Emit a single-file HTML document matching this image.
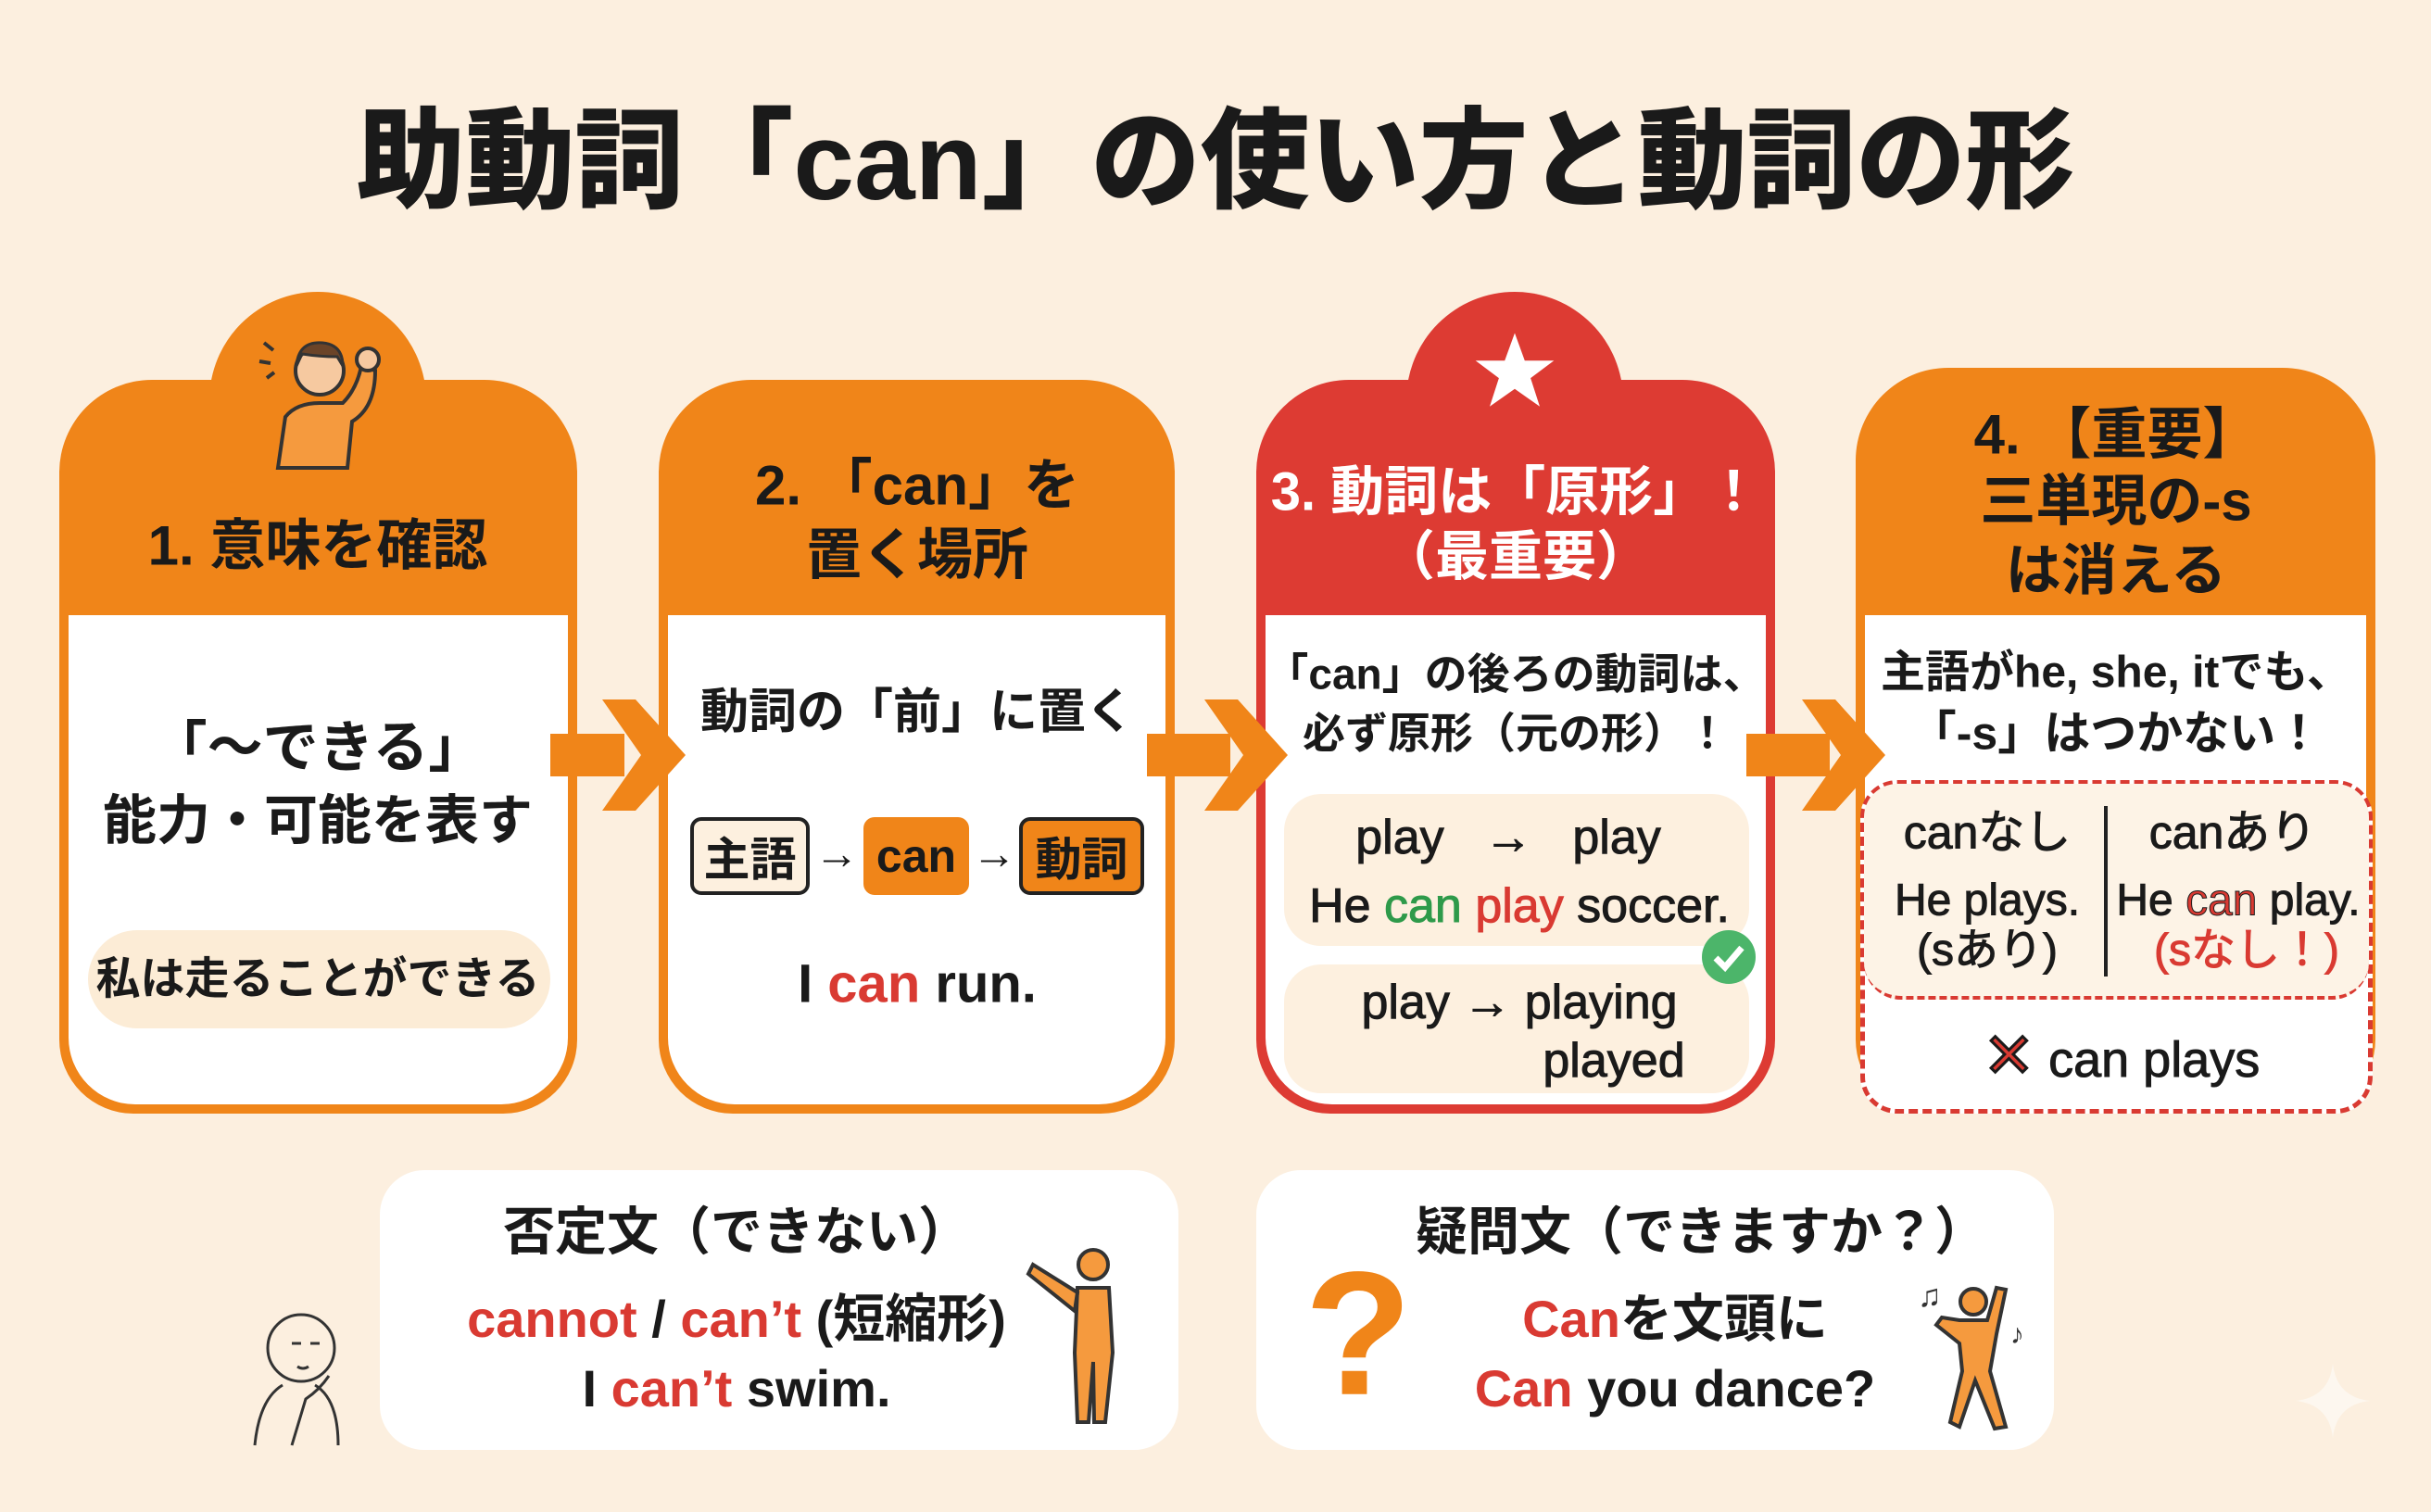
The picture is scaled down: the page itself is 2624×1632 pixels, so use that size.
<!DOCTYPE html>
<html><head><meta charset="utf-8">
<style>
*{margin:0;padding:0;box-sizing:border-box}
body{width:2624px;height:1632px;background:#fcefdf;position:relative;overflow:hidden;font-family:"Liberation Sans","Noto Sans CJK JP",sans-serif;font-weight:700;color:#1a1a1a}
.t{position:absolute;white-space:nowrap;text-align:center;transform:translate(-50%,-50%);line-height:1.15}
.card{position:absolute;border-radius:100px 100px 80px 80px}
.body{position:absolute;left:10px;right:10px;bottom:10px;background:#fff;border-radius:0 0 72px 72px}
.bump{position:absolute;width:234px;height:260px;border-radius:117px}
.r{color:#d93a32}.g{color:#2e9a4a}
.box{position:absolute;background:#fff;border-radius:48px}
.chip{position:absolute;border-radius:12px;font-size:50px;display:flex;align-items:center;justify-content:center}
</style></head><body>

<div class="t" style="left:1312px;top:176px;font-size:118px;font-weight:900">助動詞「can」の使い方と動詞の形</div>

<div class="bump" style="left:226px;top:315px;background:#f08519"></div>
<div class="bump" style="left:1518px;top:315px;background:#dd3b33"></div>

<div class="card" style="left:64px;top:410px;width:559px;height:792px;background:#f08519"><div class="body" style="top:254px"></div></div>
<div class="card" style="left:711px;top:410px;width:557px;height:792px;background:#f08519"><div class="body" style="top:254px"></div></div>
<div class="card" style="left:1356px;top:410px;width:560px;height:792px;background:#dd3b33"><div class="body" style="top:254px"></div></div>
<div class="card" style="left:2003px;top:397px;width:561px;height:805px;background:#f08519"><div class="body" style="top:267px"></div></div>

<svg style="position:absolute;left:260px;top:340px" width="170" height="170" viewBox="0 0 170 170">
<path d="M40 165 L48 110 Q60 95 85 95 L110 95 Q125 80 130 55 L145 60 Q145 100 120 115 L115 165 Z" fill="#f59a3e" stroke="#333" stroke-width="4"/>
<circle cx="85" cy="60" r="26" fill="#f6c9a0" stroke="#333" stroke-width="4"/>
<path d="M60 55 Q62 28 88 30 Q110 32 110 55 L104 45 Q85 45 66 42Z" fill="#6b4428" stroke="#333" stroke-width="3"/>
<circle cx="137" cy="48" r="12" fill="#f6c9a0" stroke="#333" stroke-width="4"/>
<path d="M25 30 L35 38 M20 50 L32 52 M28 68 L36 62" stroke="#333" stroke-width="4"/>
</svg>
<svg style="position:absolute;left:1590px;top:355px" width="90" height="90" viewBox="0 0 100 100"><polygon points="50,5 62,38 97,38 69,59 80,93 50,72 20,93 31,59 3,38 38,38" fill="#fff"/></svg>

<svg style="position:absolute;left:0;top:0" width="2624" height="1632">
<g fill="#f08519">
<rect x="594" y="792" width="80" height="46"/><polygon points="650,755 686,755 740,815 686,875 650,875 692,815"/>
<rect x="1238" y="792" width="90" height="46"/><polygon points="1300,755 1336,755 1390,815 1336,875 1300,875 1342,815"/>
<rect x="1885" y="792" width="90" height="46"/><polygon points="1945,755 1981,755 2035,815 1981,875 1945,875 1987,815"/>
</g>
</svg>

<div class="t" style="left:343px;top:589px;font-size:60px">1. 意味を確認</div>
<div class="t" style="left:343px;top:807px;font-size:60px">「～できる」</div>
<div class="t" style="left:343px;top:887px;font-size:58px">能力・可能を表す</div>
<div style="position:absolute;left:95px;top:1004px;width:499px;height:106px;background:#fcecd6;border-radius:53px"></div>
<div class="t" style="left:343px;top:1057px;font-size:48px">私は走ることができる</div>

<div class="t" style="left:990px;top:524px;font-size:60px">2. 「can」を</div>
<div class="t" style="left:990px;top:599px;font-size:60px">置く場所</div>
<div class="t" style="left:990px;top:770px;font-size:52px">動詞の「前」に置く</div>
<div class="chip" style="left:745px;top:882px;width:129px;height:84px;background:#fdf0df;border:4px solid #222">主語</div>
<div class="t" style="left:903px;top:922px;font-size:48px">→</div>
<div class="chip" style="left:932px;top:882px;width:114px;height:84px;background:#f08519">can</div>
<div class="t" style="left:1073px;top:922px;font-size:48px">→</div>
<div class="chip" style="left:1100px;top:882px;width:135px;height:84px;background:#f08519;border:4px solid #222">動詞</div>
<div class="t" style="left:990px;top:1063px;font-size:58px">I <span class="r">can</span> run.</div>

<div class="t" style="left:1636px;top:532px;font-size:58px;color:#fff">3. 動詞は「原形」！</div>
<div class="t" style="left:1636px;top:602px;font-size:58px;color:#fff">（最重要）</div>
<div class="t" style="left:1636px;top:728px;font-size:46px">「can」の後ろの動詞は、</div>
<div class="t" style="left:1636px;top:792px;font-size:46px">必ず原形（元の形）！</div>
<div style="position:absolute;left:1386px;top:857px;width:502px;height:164px;background:#fdf0df;border-radius:40px"></div>
<div style="position:absolute;left:1386px;top:1041px;width:502px;height:139px;background:#fdf0df;border-radius:40px"></div>
<div class="t" style="left:1628px;top:905px;font-size:52px;font-weight:400;-webkit-text-stroke:1px #1a1a1a">play &nbsp;&nbsp;→&nbsp;&nbsp; play</div>
<div class="t" style="left:1640px;top:979px;font-size:52px;font-weight:400;-webkit-text-stroke:1px #1a1a1a">He <span class="g" style="-webkit-text-stroke:1px #2e9a4a">can</span> <span class="r" style="-webkit-text-stroke:1px #d93a32">play</span> soccer.</div>
<svg style="position:absolute;left:1836px;top:1003px" width="60" height="60"><circle cx="30" cy="30" r="29" fill="#4cb56a"/><path d="M16 31 L26 41 L44 20" stroke="#fff" stroke-width="7" fill="none"/></svg>
<div class="t" style="left:1640px;top:1083px;font-size:52px;font-weight:400;-webkit-text-stroke:1px #1a1a1a">play → playing</div>
<div class="t" style="left:1742px;top:1146px;font-size:52px;font-weight:400;-webkit-text-stroke:1px #1a1a1a">played</div>

<div class="t" style="left:2284px;top:469px;font-size:60px">4. 【重要】</div>
<div class="t" style="left:2284px;top:541px;font-size:60px">三単現の-s</div>
<div class="t" style="left:2284px;top:616px;font-size:60px">は消える</div>
<div class="t" style="left:2284px;top:726px;font-size:48px">主語がhe, she, itでも、</div>
<div class="t" style="left:2284px;top:792px;font-size:50px">「-s」はつかない！</div>
<div style="position:absolute;left:2008px;top:842px;width:553px;height:360px;border:5px dashed #d93a32;border-radius:40px;background:#fff"></div>
<div style="position:absolute;left:2012px;top:846px;width:545px;height:233px;border-bottom:4px dashed #d93a32;border-radius:36px 36px 40px 40px;background:#fdf3e6"></div>
<div style="position:absolute;left:2271px;top:870px;width:4px;height:184px;background:#222"></div>
<div class="t" style="left:2145px;top:899px;font-size:50px;font-weight:400;-webkit-text-stroke:1px #1a1a1a">canなし</div>
<div class="t" style="left:2145px;top:972px;font-size:48px;font-weight:400;-webkit-text-stroke:1px #1a1a1a">He plays.</div>
<div class="t" style="left:2145px;top:1026px;font-size:48px;font-weight:400;-webkit-text-stroke:1px #1a1a1a">(sあり)</div>
<div class="t" style="left:2410px;top:899px;font-size:50px;font-weight:400;-webkit-text-stroke:1px #1a1a1a">canあり</div>
<div class="t" style="left:2416px;top:972px;font-size:48px;font-weight:400;-webkit-text-stroke:1px #1a1a1a">He <span class="r">can</span> play.</div>
<div class="t r" style="left:2425px;top:1026px;font-size:48px;font-weight:400;-webkit-text-stroke:1px #d93a32">(sなし！)</div>
<div class="t" style="left:2290px;top:1140px;font-size:54px;font-weight:400;-webkit-text-stroke:1px #1a1a1a"><span class="r" style="font-size:66px;font-weight:700">✕</span> can plays</div>

<div class="box" style="left:410px;top:1263px;width:862px;height:302px"></div>
<div class="box" style="left:1356px;top:1263px;width:861px;height:302px"></div>
<div class="t" style="left:795px;top:1330px;font-size:56px">否定文（できない）</div>
<div class="t" style="left:795px;top:1424px;font-size:56px"><span class="r">cannot</span> / <span class="r">can’t</span> (短縮形)</div>
<div class="t" style="left:795px;top:1499px;font-size:56px">I <span class="r">can’t</span> swim.</div>
<div class="t" style="left:1836px;top:1330px;font-size:56px">疑問文（できますか？）</div>
<div class="t" style="left:1808px;top:1424px;font-size:56px"><span class="r">Can</span>を文頭に</div>
<div class="t" style="left:1808px;top:1499px;font-size:56px"><span class="r">Can</span> you dance?</div>
<div class="t" style="left:1466px;top:1440px;font-size:190px;color:#f08519;font-weight:900">?</div>

<svg style="position:absolute;left:1105px;top:1340px" width="130" height="200" viewBox="0 0 130 200">
<g fill="#f59a3e" stroke="#333" stroke-width="4">
<circle cx="75" cy="25" r="16"/>
<path d="M58 50 L92 50 L96 120 L88 195 L76 195 L75 130 L70 195 L58 195 L55 120 Z"/>
<path d="M58 55 L10 25 L5 35 L55 75 Z"/></g></svg>
<svg style="position:absolute;left:2060px;top:1380px" width="140" height="170" viewBox="0 0 140 170">
<g fill="#f59a3e" stroke="#333" stroke-width="4">
<circle cx="70" cy="25" r="14"/>
<path d="M55 45 L85 45 L95 10 L105 12 L95 60 L88 100 L105 160 L93 162 L72 110 L55 160 L45 155 L58 100 L55 70 L30 50 L36 42 Z"/></g>
<text x="10" y="30" font-size="34" fill="#333">♫</text><text x="110" y="70" font-size="30" fill="#333">♪</text></svg>
<svg style="position:absolute;left:255px;top:1400px" width="140" height="165" viewBox="0 0 140 165" fill="none" stroke="#333" stroke-width="3">
<circle cx="70" cy="55" r="36"/><path d="M60 50 l10 0 M80 50 l10 0 M66 75 q6 4 12 0"/>
<path d="M20 160 Q25 110 50 95 M110 160 Q110 110 85 95 M60 160 L75 110 Q90 100 100 85"/></svg>
<svg style="position:absolute;left:2478px;top:1472px" width="80" height="80" viewBox="0 0 80 80"><path d="M40 0 Q44 36 80 40 Q44 44 40 80 Q36 44 0 40 Q36 36 40 0Z" fill="#fdf7ef"/></svg>
</body></html>
